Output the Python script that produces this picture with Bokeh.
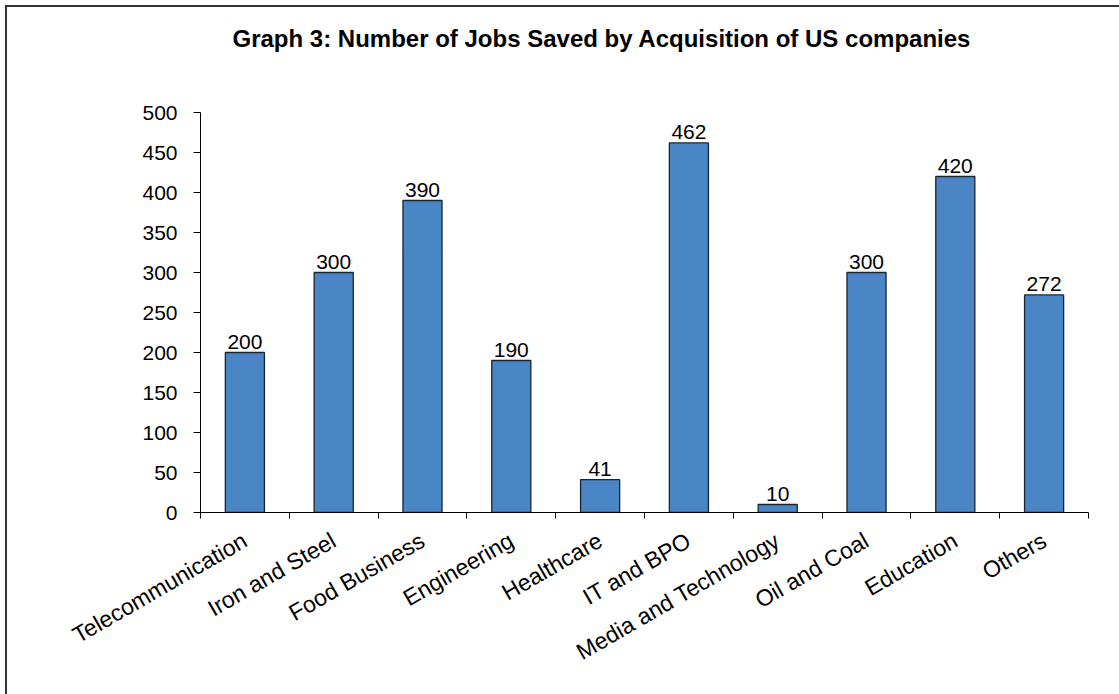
import math
from bokeh.plotting import figure
from bokeh.models import ColumnDataSource, Range1d, FixedTicker, LabelSet, Title
from bokeh.core.properties import value
from bokeh.embed import file_html
from bokeh.resources import INLINE

categories = ["Telecommunication", "Iron and Steel", "Food Business", "Engineering",
              "Healthcare", "IT and BPO", "Media and Technology", "Oil and Coal",
              "Education", "Others"]
jobs_saved = [200, 300, 390, 190, 41, 462, 10, 300, 420, 272]
y_ticks = [0, 50, 100, 150, 200, 250, 300, 350, 400, 450, 500]
title_text = "Graph 3: Number of Jobs Saved by Acquisition of US companies"

n = len(categories)
xpos = [i + 0.5 for i in range(n)]
src = ColumnDataSource(dict(x=xpos, top=jobs_saved, lab=[str(v) for v in jobs_saved]))

FONT = "Liberation Sans"

p = figure(width=1119, height=694, output_backend="svg", toolbar_location=None,
           x_range=Range1d(0, n), y_range=Range1d(0, 500),
           min_border_left=200, min_border_right=31, min_border_top=112, min_border_bottom=182)
p.border_fill_color = None
p.background_fill_color = None
p.outline_line_color = None
p.styles = {"background": "white",
            "box-shadow": "inset 5px 5px 0 0 white, inset 7px 7px 0 0 #333333"}
p.xgrid.visible = False
p.ygrid.visible = False

p.vbar(x="x", top="top", width=0.44, source=src, fill_color="#4a86c6",
       line_color="#1a2430", line_width=1.3)

p.add_layout(LabelSet(x="x", y="top", text="lab", source=src, text_align="center",
                      text_baseline="bottom", y_offset=4, text_font=value(FONT),
                      text_font_size="21px", text_color="black"))

# y axis
ya = p.yaxis[0]
ya.ticker = FixedTicker(ticks=y_ticks)
ya.major_label_text_font = FONT
ya.major_label_text_font_size = "21px"
ya.major_label_text_color = "black"
ya.axis_line_color = "black"
ya.major_tick_line_color = "black"
ya.major_tick_out = 7
ya.major_tick_in = 0
ya.minor_tick_line_color = None
ya.major_label_standoff = 16

# x axis
xa = p.xaxis[0]
xa.ticker = FixedTicker(ticks=xpos, minor_ticks=list(range(n + 1)))
xa.major_label_overrides = {x: c for x, c in zip(xpos, categories)}
xa.major_label_orientation = math.pi / 6
xa.major_label_text_font = FONT
xa.major_label_text_font_size = "23px"
xa.major_label_text_color = "black"
xa.axis_line_color = "black"
xa.major_tick_line_color = None
xa.minor_tick_line_color = "black"
xa.minor_tick_out = 6
xa.minor_tick_in = 0
xa.major_label_standoff = 20

spacer = Title(text=" ", text_font=FONT, text_font_size="40px", text_color="white")
p.add_layout(spacer, "above")
t = Title(text=title_text, align="left", text_font=FONT, text_font_size="24px",
          text_font_style="bold", text_color="black", offset=32)
p.add_layout(t, "above")

open("out.html", "w").write(file_html(p, INLINE))
